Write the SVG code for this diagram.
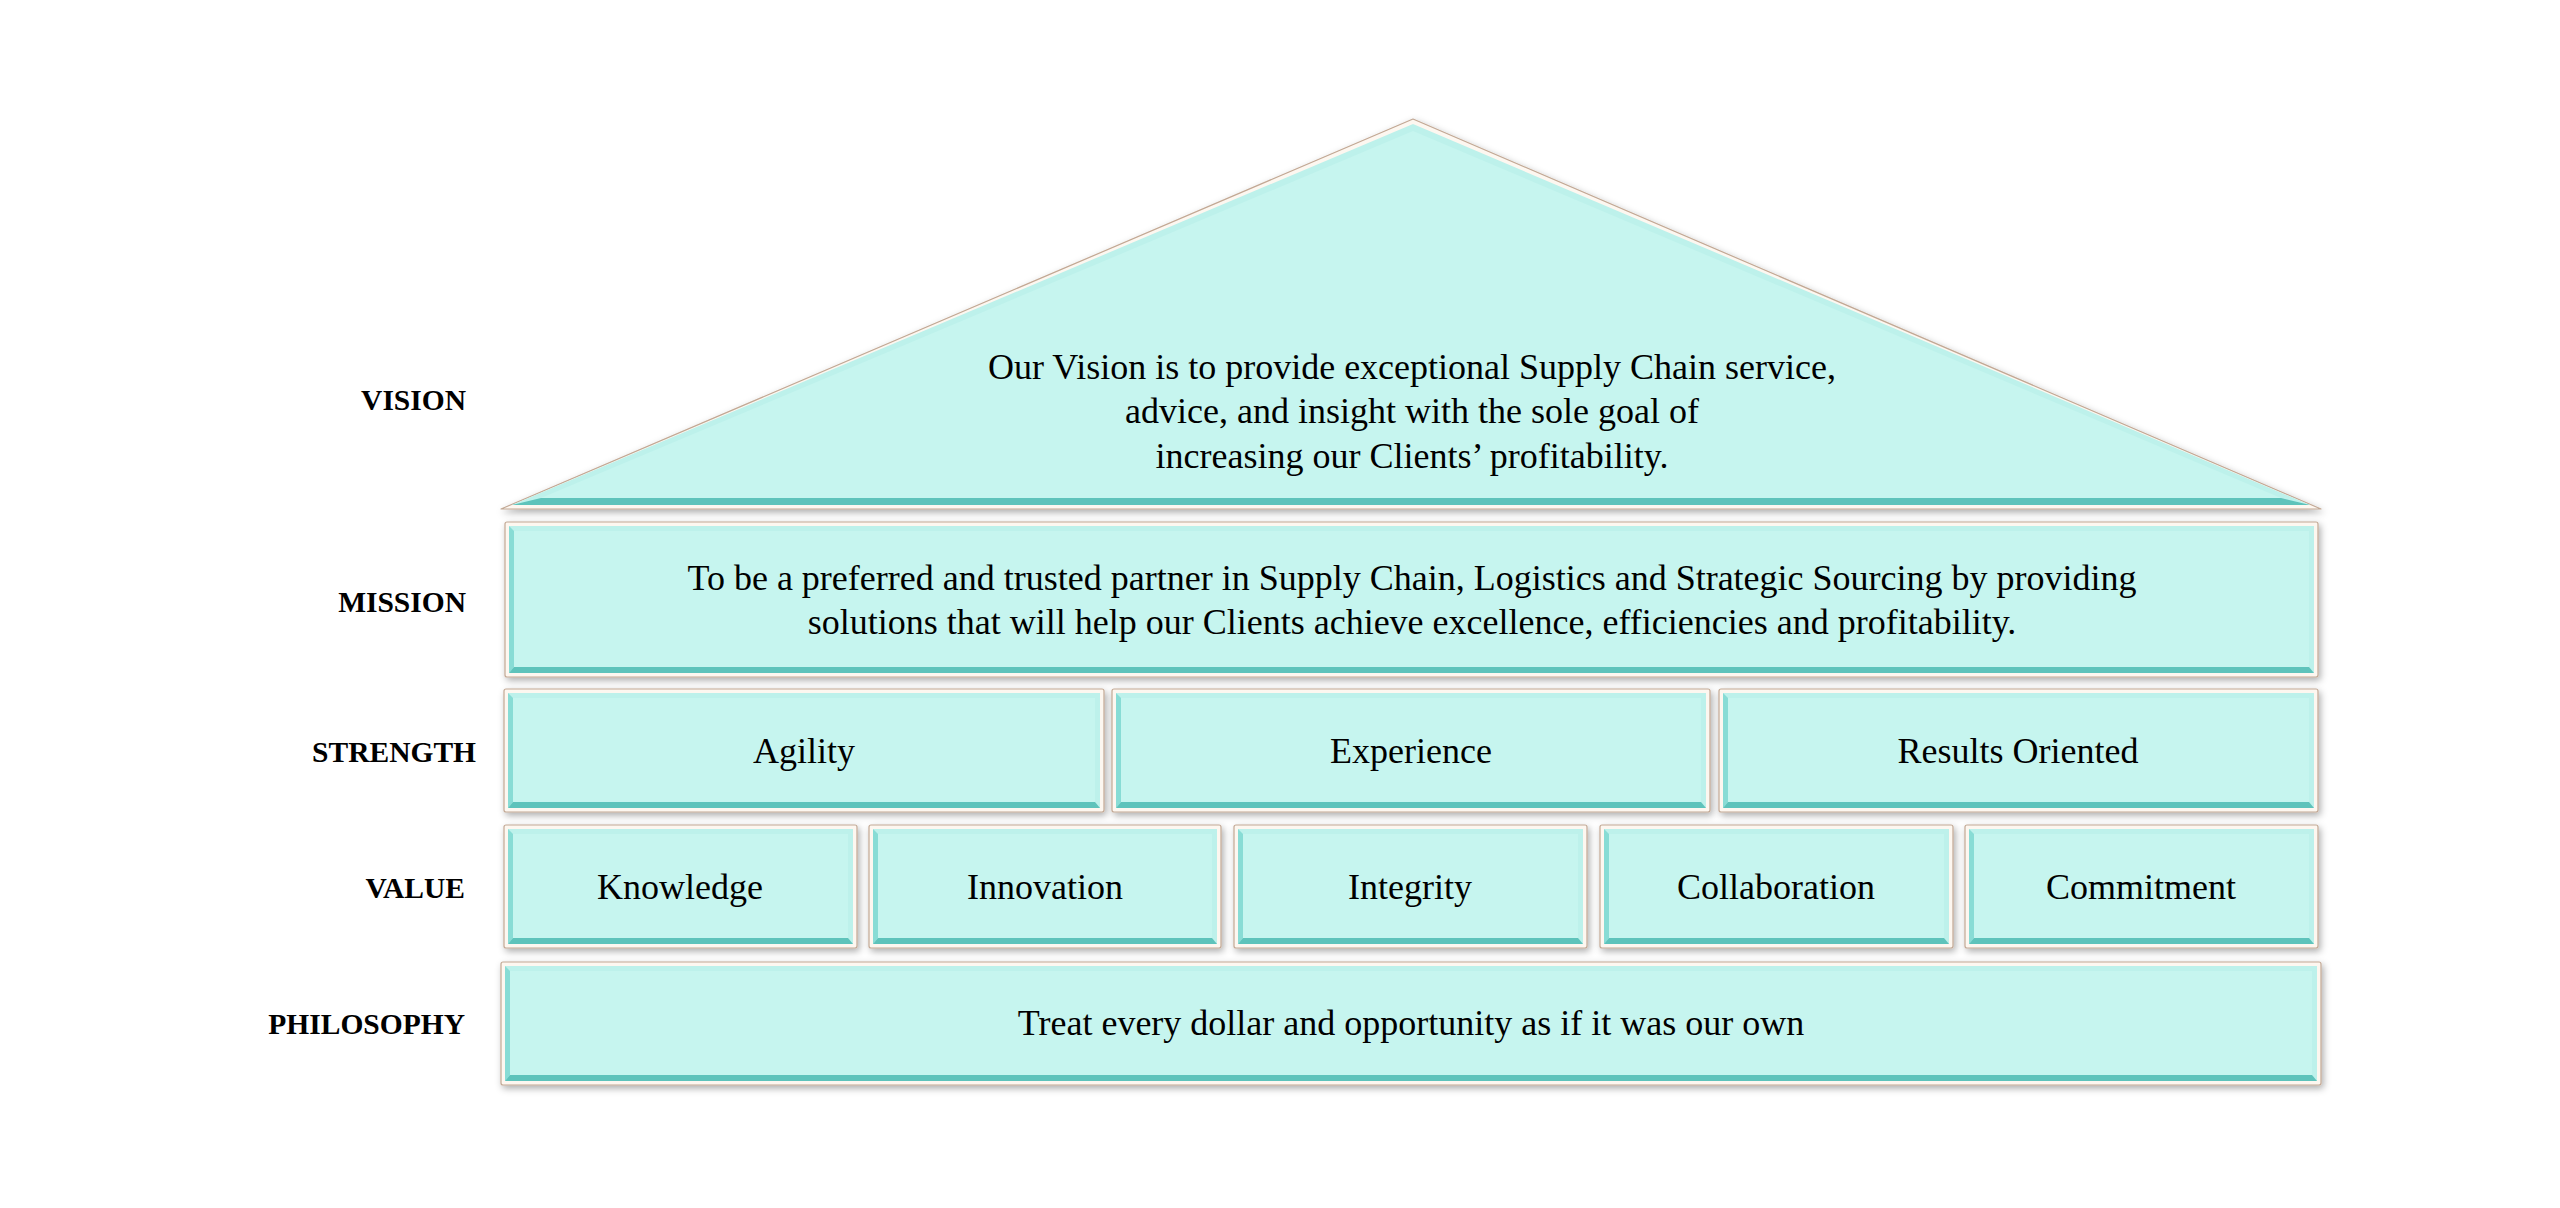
<svg xmlns="http://www.w3.org/2000/svg" width="2560" height="1208" viewBox="0 0 2560 1208">
<style>
.frame{fill:#fdf7f0;stroke:#c2a894;stroke-width:1.2;stroke-linejoin:round}
.bev{fill:#bdf1eb}
.bl{fill:#88dcd5}
.bb{fill:#5ec3bb}
.face{fill:#c6f5ef}
.t{font-family:"Liberation Serif","Times New Roman",serif;font-size:36px;fill:#000;text-anchor:middle}
.lbl{font-family:"Liberation Serif","Times New Roman",serif;font-size:29.5px;font-weight:bold;fill:#000;text-anchor:end}
.sh{filter:url(#ds)}
</style>
<defs>
<filter id="ds" x="-5%" y="-20%" width="110%" height="140%">
<feDropShadow dx="2" dy="3" stdDeviation="3.5" flood-color="#000" flood-opacity="0.32"/>
</filter>
</defs>
<rect width="2560" height="1208" fill="#fff"/>

<g id="labels">
<text class="lbl" x="466" y="410">VISION</text>
<text class="lbl" x="466" y="612">MISSION</text>
<text class="lbl" x="476" y="762">STRENGTH</text>
<text class="lbl" x="465" y="898">VALUE</text>
<text class="lbl" x="465" y="1034">PHILOSOPHY</text>
</g>

<g id="vision">
<polygon class="frame sh" points="1413,119 2321,509 501,509"/>
<polygon class="bev" points="1413,124 2310,505 512,505"/>
<polygon class="bb" points="512,505 2310,505 2281,498 541,498"/>
<polygon class="face" points="1413,131 2281,498 541,498"/>
<text class="t" x="1412" y="379">Our Vision is to provide exceptional Supply Chain service,</text>
<text class="t" x="1412" y="423">advice, and insight with the sole goal of</text>
<text class="t" x="1412" y="468">increasing our Clients’ profitability.</text>
</g>

<g id="mission">
<rect class="frame sh" x="505" y="522" width="1813" height="155" rx="2"/>
<rect class="bev" x="509" y="526" width="1805" height="147"/>
<polygon class="bl" points="509,526 514,531 514,667 509,673"/>
<polygon class="bb" points="509,673 514,667 2309,667 2314,673"/>
<rect class="face" x="514" y="531" width="1795" height="136"/>
<text class="t" x="1412" y="590">To be a preferred and trusted partner in Supply Chain, Logistics and Strategic Sourcing by providing</text>
<text class="t" x="1412" y="634">solutions that will help our Clients achieve excellence, efficiencies and profitability.</text>
</g>

<g id="agility">
<rect class="frame sh" x="504" y="689" width="600" height="123" rx="2"/>
<rect class="bev" x="508" y="693" width="592" height="115"/>
<polygon class="bl" points="508,693 513,698 513,802 508,808"/>
<polygon class="bb" points="508,808 513,802 1095,802 1100,808"/>
<rect class="face" x="513" y="698" width="582" height="104"/>
<text class="t" x="804" y="763">Agility</text>
</g>

<g id="experience">
<rect class="frame sh" x="1112" y="689" width="598" height="123" rx="2"/>
<rect class="bev" x="1116" y="693" width="590" height="115"/>
<polygon class="bl" points="1116,693 1121,698 1121,802 1116,808"/>
<polygon class="bb" points="1116,808 1121,802 1701,802 1706,808"/>
<rect class="face" x="1121" y="698" width="580" height="104"/>
<text class="t" x="1411" y="763">Experience</text>
</g>

<g id="results-oriented">
<rect class="frame sh" x="1719" y="689" width="599" height="123" rx="2"/>
<rect class="bev" x="1723" y="693" width="591" height="115"/>
<polygon class="bl" points="1723,693 1728,698 1728,802 1723,808"/>
<polygon class="bb" points="1723,808 1728,802 2309,802 2314,808"/>
<rect class="face" x="1728" y="698" width="581" height="104"/>
<text class="t" x="2018" y="763">Results Oriented</text>
</g>

<g id="knowledge">
<rect class="frame sh" x="504" y="825" width="353" height="123" rx="2"/>
<rect class="bev" x="508" y="829" width="345" height="115"/>
<polygon class="bl" points="508,829 513,834 513,938 508,944"/>
<polygon class="bb" points="508,944 513,938 848,938 853,944"/>
<rect class="face" x="513" y="834" width="335" height="104"/>
<text class="t" x="680" y="899">Knowledge</text>
</g>

<g id="innovation">
<rect class="frame sh" x="869" y="825" width="352" height="123" rx="2"/>
<rect class="bev" x="873" y="829" width="344" height="115"/>
<polygon class="bl" points="873,829 878,834 878,938 873,944"/>
<polygon class="bb" points="873,944 878,938 1212,938 1217,944"/>
<rect class="face" x="878" y="834" width="334" height="104"/>
<text class="t" x="1045" y="899">Innovation</text>
</g>

<g id="integrity">
<rect class="frame sh" x="1234" y="825" width="353" height="123" rx="2"/>
<rect class="bev" x="1238" y="829" width="345" height="115"/>
<polygon class="bl" points="1238,829 1243,834 1243,938 1238,944"/>
<polygon class="bb" points="1238,944 1243,938 1578,938 1583,944"/>
<rect class="face" x="1243" y="834" width="335" height="104"/>
<text class="t" x="1410" y="899">Integrity</text>
</g>

<g id="collaboration">
<rect class="frame sh" x="1600" y="825" width="353" height="123" rx="2"/>
<rect class="bev" x="1604" y="829" width="345" height="115"/>
<polygon class="bl" points="1604,829 1609,834 1609,938 1604,944"/>
<polygon class="bb" points="1604,944 1609,938 1944,938 1949,944"/>
<rect class="face" x="1609" y="834" width="335" height="104"/>
<text class="t" x="1776" y="899">Collaboration</text>
</g>

<g id="commitment">
<rect class="frame sh" x="1965" y="825" width="353" height="123" rx="2"/>
<rect class="bev" x="1969" y="829" width="345" height="115"/>
<polygon class="bl" points="1969,829 1974,834 1974,938 1969,944"/>
<polygon class="bb" points="1969,944 1974,938 2309,938 2314,944"/>
<rect class="face" x="1974" y="834" width="335" height="104"/>
<text class="t" x="2141" y="899">Commitment</text>
</g>

<g id="philosophy">
<rect class="frame sh" x="501" y="962" width="1820" height="123" rx="2"/>
<rect class="bev" x="505" y="966" width="1812" height="115"/>
<polygon class="bl" points="505,966 510,971 510,1075 505,1081"/>
<polygon class="bb" points="505,1081 510,1075 2312,1075 2317,1081"/>
<rect class="face" x="510" y="971" width="1802" height="104"/>
<text class="t" x="1411" y="1035">Treat every dollar and opportunity as if it was our own</text>
</g>
</svg>
